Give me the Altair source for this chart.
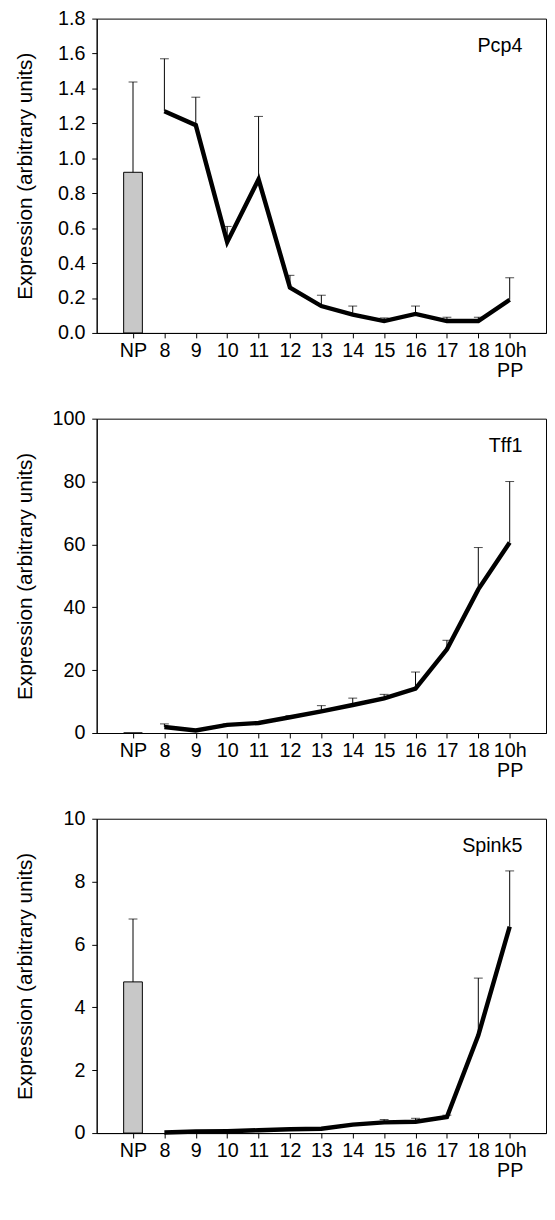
import json
import altair as alt
import pandas as pd

categories = ["NP", "8", "9", "10", "11", "12", "13", "14", "15", "16", "17", "18", "10h PP"]
positions = list(range(len(categories)))

genes = ["Pcp4", "Tff1", "Spink5"]
pcp4_mean = [0.92, 1.27, 1.19, 0.52, 0.88, 0.26, 0.154, 0.105, 0.068, 0.109, 0.068, 0.068, 0.19]
pcp4_upper = [1.437, 1.57, 1.35, 0.61, 1.24, 0.33, 0.216, 0.154, 0.086, 0.154, 0.09, 0.09, 0.316]
tff1_mean = [0.0, 1.9, 0.8, 2.6, 3.2, 5.0, 6.9, 8.9, 11.0, 14.1, 26.6, 45.7, 60.6]
tff1_upper = [0.0, 2.9, 0.8, 2.9, 3.4, 5.5, 8.7, 11.1, 12.3, 19.4, 29.5, 59.0, 80.0]
spink5_mean = [4.81, 0.02, 0.05, 0.06, 0.09, 0.12, 0.14, 0.27, 0.34, 0.36, 0.51, 3.11, 6.57]
spink5_upper = [6.81, 0.02, 0.05, 0.06, 0.09, 0.12, 0.14, 0.27, 0.43, 0.47, 0.57, 4.93, 8.34]

y_max = [1.8, 100, 10]
y_ticks = [
    [0.0, 0.2, 0.4, 0.6, 0.8, 1.0, 1.2, 1.4, 1.6, 1.8],
    [0, 20, 40, 60, 80, 100],
    [0, 2, 4, 6, 8, 10],
]
y_format = [".1f", "d", "d"]
means = [pcp4_mean, tff1_mean, spink5_mean]
uppers = [pcp4_upper, tff1_upper, spink5_upper]

FONT = "Liberation Sans"
W, H = 456, 319

labels_js = json.dumps([c.split(" ") if " " in c else c for c in categories])
label_expr = f"{labels_js}[datum.value]"


def panel(i):
    df = pd.DataFrame({
        "pos": positions,
        "cat": categories,
        "mean": means[i],
        "upper": uppers[i],
    })
    x_axis = alt.Axis(values=positions, labelExpr=label_expr, title=None,
                      labelPadding=3, labelLineHeight=20, labelAngle=0,
                      labelAlign="center", labelOverlap=False, labelFlush=False)
    x_scale = alt.Scale(domain=[-1, 13], nice=False, zero=False)
    x_enc = alt.X("pos:Q", scale=x_scale, axis=x_axis)
    y_scale = alt.Scale(domain=[0, y_max[i]], nice=False)
    y_axis = alt.Axis(values=y_ticks[i], format=y_format[i],
                      title="Expression (arbitrary units)",
                      titleX=-72, titleY=H / 2, titleBaseline="middle",
                      labelPadding=7, labelOverlap=False, labelFlush=False)
    y_mean = alt.Y("mean:Q", scale=y_scale, axis=y_axis)
    y_up = alt.Y("upper:Q", scale=y_scale, axis=y_axis)

    base = alt.Chart(df)
    bar = base.transform_filter("datum.pos == 0").mark_bar(
        size=19, color="#c8c8c8", stroke="black", strokeWidth=1
    ).encode(x=x_enc, y=y_mean)
    err_df = base.transform_filter("datum.upper > datum.mean")
    rule = err_df.mark_rule(color="black", strokeWidth=1).encode(
        x=x_enc, y=y_mean, y2="upper:Q"
    )
    cap = err_df.mark_tick(orient="horizontal", color="black", size=9, thickness=1).encode(
        x=x_enc, y=y_up
    )
    line = base.transform_filter("datum.pos > 0").mark_line(
        color="black", strokeWidth=4.5
    ).encode(x=x_enc, y=y_mean)
    label = alt.Chart(pd.DataFrame({"gene": [genes[i]]})).mark_text(
        align="right", baseline="middle", font=FONT, fontSize=20, color="black"
    ).encode(x=alt.value(432), y=alt.value(28), text="gene:N")
    return alt.layer(bar, rule, cap, line, label).properties(width=W, height=H)


chart = alt.vconcat(panel(0), panel(1), panel(2), spacing=27).properties(
    padding={"left": 6, "top": -9, "right": 0, "bottom": 0}
).configure_axis(
    labelFont=FONT, labelFontSize=20, labelColor="black",
    titleFont=FONT, titleFontSize=21, titleColor="black", titleFontWeight="normal",
    tickColor="black", domainColor="black", tickSize=5, grid=False,
    labelOverlap=False,
).configure_view(stroke="black", strokeWidth=1)

chart.save("out.html", embed_options={"renderer": "svg", "actions": False})
